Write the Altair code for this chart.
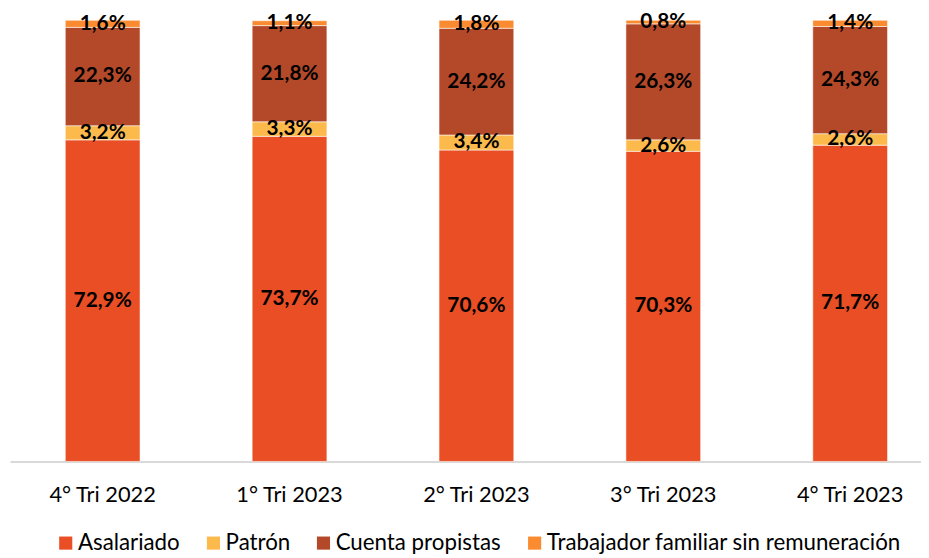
import altair as alt
import pandas as pd

categories = ["4° Tri 2022", "1° Tri 2023", "2° Tri 2023", "3° Tri 2023", "4° Tri 2023"]
series = ["Asalariado", "Patrón", "Cuenta propistas", "Trabajador familiar sin remuneración"]
asalariado = [72.9, 73.7, 70.6, 70.3, 71.7]
patron = [3.2, 3.3, 3.4, 2.6, 2.6]
cuenta = [22.3, 21.8, 24.2, 26.3, 24.3]
trabajador = [1.6, 1.1, 1.8, 0.8, 1.4]
colors = ["#E94E24", "#FDBA4C", "#B4492A", "#FA8B30"]

rows = []
for i, c in enumerate(categories):
    for j, (s, vals) in enumerate(zip(series, [asalariado, patron, cuenta, trabajador])):
        rows.append({"cat": c, "serie": s, "ord": j, "value": vals[i]})
df = pd.DataFrame(rows)

FONT = "Lato"

base = alt.Chart(df).transform_stack(
    stack="value", groupby=["cat"], as_=["y0", "y1"], sort=[{"field": "ord", "order": "ascending"}]
).transform_calculate(
    mid="(datum.y0 + datum.y1) / 2",
    lbl="replace(format(datum.value, '.1f'), '.', ',') + '%'",
)

x = alt.X(
    "cat:N",
    sort=categories,
    title=None,
    scale=alt.Scale(paddingInner=0.6, paddingOuter=0.2375, align=0.623),
    axis=alt.Axis(
        labelAngle=0,
        labelFont=FONT,
        labelFontSize=22,
        labelColor="#000000",
        labelPadding=23,
        ticks=False,
        domainColor="#d9d9d9",
        domainWidth=2,
    ),
)

bars = base.mark_bar(stroke="white", strokeWidth=1, strokeOpacity=0.55).encode(
    x=x,
    y=alt.Y("y0:Q", scale=alt.Scale(domain=[0, 100], nice=False), axis=None),
    y2="y1:Q",
    color=alt.Color(
        "serie:N",
        sort=series,
        scale=alt.Scale(domain=series, range=colors),
        legend=alt.Legend(
            title=None,
            orient="none",
            direction="horizontal",
            columns=4,
            legendX=45,
            legendY=516,
            symbolType="square",
            symbolSize=175,
            symbolStrokeWidth=0,
            symbolOpacity=1,
            labelFont=FONT,
            labelFontSize=22.5,
            labelColor="#000000",
            labelOffset=1,
            labelLimit=450,
            columnPadding=22,
        ),
    ),
    order=alt.Order("ord:Q"),
)

labels = base.mark_text(font=FONT, fontSize=21, fontWeight="bold", color="black", baseline="middle").encode(
    x=alt.X("cat:N", sort=categories),
    y=alt.Y("mid:Q"),
    text="lbl:N",
)

chart = alt.layer(bars, labels).properties(
    width=919,
    height=445,
    padding={"left": 2, "top": 10, "right": 0, "bottom": 95},
    autosize=alt.AutoSizeParams(type="none"),
).configure_view(stroke=None)

chart.save("out.html", embed_options={"renderer": "svg", "actions": False})
